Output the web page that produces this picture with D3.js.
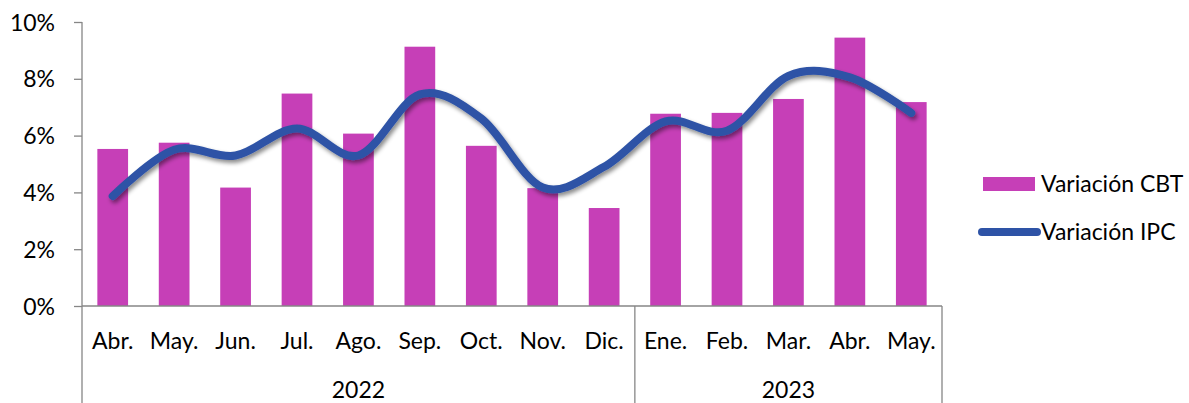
<!DOCTYPE html>
<html>
<head>
<meta charset="utf-8">
<script src="https://cdn.jsdelivr.net/npm/d3@7"></script>
<style>
  body { margin: 0; background: #fff; }
  text { font-family: Lato, "Open Sans", sans-serif; fill: #000; }
</style>
</head>
<body>
<svg id="chart" width="1189" height="403"></svg>
<script>
// data
const months = ['Abr.', 'May.', 'Jun.', 'Jul.', 'Ago.', 'Sep.', 'Oct.', 'Nov.', 'Dic.',
                'Ene.', 'Feb.', 'Mar.', 'Abr.', 'May.']
const years = [{ name: '2022', from: 0, to: 8 }, { name: '2023', from: 9, to: 13 }]
const cbt = [5.53, 5.75, 4.17, 7.48, 6.07, 9.13, 5.64, 4.15, 3.45, 6.77, 6.8, 7.29, 9.45, 7.18]
const ipc = [3.87, 5.5, 5.3, 6.25, 5.3, 7.45, 6.6, 4.17, 4.9, 6.5, 6.17, 8.1, 8.05, 6.8]
const yTicks = [0, 2, 4, 6, 8, 10]

const svg = d3.select('#chart')
const plotLeft = 82, plotRight = 942, plotTop = 22, plotBottom = 306
const fontSize = '23px'

const x = d3.scaleBand()
  .domain(d3.range(months.length))
  .range([plotLeft, plotRight])
  .paddingInner(0.5)
  .paddingOuter(0.25)
const xc = d3.scaleBand().domain(d3.range(months.length)).range([plotLeft, plotRight])
const y = d3.scaleLinear().domain([0, 10]).range([plotBottom, plotTop])

const defs = svg.append('defs')
defs.append('filter')
  .attr('id', 'shadow')
  .attr('x', '-10%').attr('y', '-30%').attr('width', '120%').attr('height', '160%')
  .append('feDropShadow')
  .attr('dx', 2).attr('dy', 3).attr('stdDeviation', 2)
  .attr('flood-color', '#000').attr('flood-opacity', 0.45)

// bars
svg.append('g').selectAll('rect')
  .data(cbt)
  .enter()
  .append('rect')
  .attr('x', (d, i) => x(i))
  .attr('width', x.bandwidth())
  .attr('y', d => y(d))
  .attr('height', d => y(0) - y(d))
  .attr('fill', '#c63fb7')

// y axis
const yAxis = svg.append('g')
  .attr('transform', `translate(${plotLeft},0)`)
  .call(d3.axisLeft(y).tickValues(yTicks).tickSize(8).tickFormat(d => d + '%'))
yAxis.select('.domain').remove()
yAxis.selectAll('line').attr('stroke', '#868686').attr('stroke-width', 1.3)
yAxis.selectAll('text')
  .attr('x', -27)
  .attr('font-size', fontSize)
  .attr('font-family', 'Lato, sans-serif')
  .attr('dy', '0.35em')

const axisColor = '#868686'
svg.append('line')
  .attr('x1', plotLeft).attr('x2', plotLeft).attr('y1', plotTop).attr('y2', 403)
  .attr('stroke', axisColor).attr('stroke-width', 1.3)
svg.append('line')
  .attr('x1', plotLeft).attr('x2', plotRight).attr('y1', plotBottom).attr('y2', plotBottom)
  .attr('stroke', axisColor).attr('stroke-width', 1.3)

// year separators
years.forEach(yr => {
  const xe = xc(yr.to) + xc.bandwidth()
  svg.append('line')
    .attr('x1', xe).attr('x2', xe).attr('y1', plotBottom).attr('y2', 403)
    .attr('stroke', axisColor).attr('stroke-width', 1.3)
  svg.append('text')
    .text(yr.name)
    .attr('x', (xc(yr.from) + xe) / 2)
    .attr('y', 398)
    .attr('text-anchor', 'middle')
    .attr('font-size', fontSize)
})

// month labels
svg.append('g').selectAll('text')
  .data(months)
  .enter()
  .append('text')
  .text(d => d)
  .attr('x', (d, i) => xc(i) + xc.bandwidth() / 2)
  .attr('y', 349)
  .attr('text-anchor', 'middle')
  .attr('font-size', fontSize)

// smoothed IPC line
const line = d3.line()
  .x((d, i) => xc(i) + xc.bandwidth() / 2)
  .y(d => y(d))
  .curve(d3.curveCardinal.tension(0))
svg.append('path')
  .datum(ipc)
  .attr('d', line)
  .attr('fill', 'none')
  .attr('stroke', '#2e53a6')
  .attr('stroke-width', 8)
  .attr('stroke-linecap', 'round')
  .attr('filter', 'url(#shadow)')

// legend
const legend = svg.append('g')
legend.append('rect')
  .attr('x', 983).attr('y', 177).attr('width', 52).attr('height', 14)
  .attr('fill', '#c63fb7')
legend.append('text')
  .text('Variación CBT')
  .attr('x', 1041).attr('y', 184).attr('dy', '0.35em')
  .attr('font-size', fontSize)
legend.append('line')
  .attr('x1', 982).attr('x2', 1037).attr('y1', 232).attr('y2', 232)
  .attr('stroke', '#2e53a6').attr('stroke-width', 8).attr('stroke-linecap', 'round')
legend.append('text')
  .text('Variación IPC')
  .attr('x', 1041).attr('y', 232).attr('dy', '0.35em')
  .attr('font-size', fontSize)
</script>
</body>
</html>
